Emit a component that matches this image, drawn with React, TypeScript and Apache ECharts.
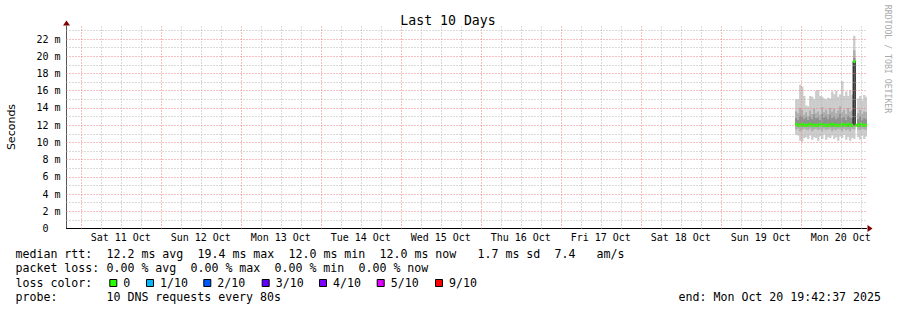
import React, { useEffect, useRef } from 'react';
import * as echarts from 'echarts';

const TITLE = 'Last 10 Days';
const Y_NAME = 'Seconds';
const CREDIT = 'RRDTOOL / TOBI OETIKER';
const MONO = '"DejaVu Sans Mono", monospace';

// x axis: hours since Sat 11 Oct 00:00
const X_MIN = -4.2897; // Fri 10 Oct 19:42:37
const X_MAX = 235.7103; // Mon 20 Oct 19:42:37
const DAY_LABELS = ['Sat 11 Oct', 'Sun 12 Oct', 'Mon 13 Oct', 'Tue 14 Oct', 'Wed 15 Oct', 'Thu 16 Oct', 'Fri 17 Oct', 'Sat 18 Oct', 'Sun 19 Oct', 'Mon 20 Oct'];
const DAY_NOON = [12, 36, 60, 84, 108, 132, 156, 180, 204, 228];
const MAJOR_X = [0, 24, 48, 72, 96, 120, 144, 168, 192, 216];
const MINOR_X = [6, 12, 18, 30, 36, 42, 54, 60, 66, 78, 84, 90, 102, 108, 114, 126, 132, 138, 150, 156, 162, 174, 180, 186, 198, 204, 210, 222, 228, 234];

// y axis: milliseconds
const Y_MAX = 23.52;
const MAJOR_Y = [2, 4, 6, 8, 10, 12, 14, 16, 18, 20, 22];
const MINOR_Y = [1, 3, 5, 7, 9, 11, 13, 15, 17, 19, 21, 23];

// samples (one per consolidation step)
const T0 = 214.3;
const STEP = 0.6;
const SMOKE_MIN = [10.9, 10.8, 10.2, 10.1, 10.5, 10.6, 10.4, 10.8, 10.3, 10.6, 10.5, 10.2, 10.7, 10.4, 10.9, 10.3, 10.6, 10.5, 10.8, 10.4, 10.6, 10.2, 10.7, 10.5, 10.9, 10.3, 10.6, 10.2, 10.5, 10.4, null, 10.6, 10.3, 10.8, 10.4, 10.7];
const SMOKE_MAX = [15.0, 15.0, 16.7, 16.5, 15.4, 14.3, 14.2, 15.4, 15.3, 15.0, 16.0, 16.1, 15.4, 15.3, 15.1, 15.0, 15.2, 15.1, 15.9, 15.6, 16.0, 15.3, 15.6, 17.1, 15.4, 15.9, 15.4, 16.1, 15.5, 22.4, null, 15.1, 15.4, 14.9, 15.5, 15.3];
const MID_LO = [11.5, 11.6, 11.3, 11.4, 11.6, 11.5, 11.4, 11.6, 11.3, 11.5, 11.6, 11.4, 11.5, 11.3, 11.6, 11.4, 11.5, 11.6, 11.3, 11.5, 11.4, 11.6, 11.5, 11.3, 11.6, 11.4, 11.5, 11.3, 11.6, 11.5, null, 11.5, 11.4, 11.6, 11.5, 11.4];
const MID_HI = [13.6, 13.4, 14.0, 13.8, 13.2, 13.5, 13.1, 13.7, 13.3, 13.9, 13.4, 13.6, 13.2, 14.1, 13.5, 13.8, 13.3, 14.0, 13.6, 13.9, 13.4, 13.7, 14.2, 13.5, 13.8, 13.3, 14.0, 13.6, 13.7, 20.7, null, 13.4, 13.8, 13.3, 13.6, 13.5];
const DARK_LO = [11.9, 11.8, 11.9, 11.8, 11.9, 11.9, 11.8, 11.9, 11.8, 11.9, 11.9, 11.8, 11.9, 11.8, 11.9, 11.9, 11.8, 11.9, 11.8, 11.9, 11.9, 11.8, 11.9, 11.8, 11.9, 11.9, 11.8, 11.9, 11.8, 11.9, null, 11.9, 11.8, 11.9, 11.8, 11.9];
const DARK_HI = [12.8, 12.6, 13.1, 13.0, 12.7, 12.9, 12.6, 13.0, 12.7, 13.2, 12.8, 12.9, 12.6, 13.3, 12.9, 13.1, 12.7, 13.2, 12.8, 13.0, 12.7, 12.9, 13.3, 12.8, 13.0, 12.6, 13.1, 12.9, 12.8, 19.8, null, 12.7, 13.0, 12.6, 12.8, 12.7];
const MEDIAN = [12.1, 12.0, 12.0, 12.1, 12.0, 12.0, 12.0, 12.1, 12.0, 12.0, 12.0, 12.0, 12.1, 12.0, 12.0, 12.0, 12.0, 12.0, 12.1, 12.0, 12.0, 12.0, 12.0, 12.1, 12.0, 12.0, 12.1, 12.0, 12.0, 19.4, 12.0, 12.0, 12.1, 12.0, 12.0, 12.0];

// legend text
const LINE_RTT: [number, string][] = [[0, 'median rtt:'], [13, '12.2 ms avg'], [26, '19.4 ms max'], [39, '12.0 ms min'], [52, '12.0 ms now'], [66, '1.7 ms sd'], [77, '7.4'], [83, 'am/s']];
const LINE_LOSS: [number, string][] = [[0, 'packet loss:'], [13, '0.00 % avg'], [25, '0.00 % max'], [37, '0.00 % min'], [49, '0.00 % now']];
const LINE_PROBE: [number, string][] = [[0, 'probe:'], [13, '10 DNS requests every 80s']];
const LOSS_LABELS = ['0', '1/10', '2/10', '3/10', '4/10', '5/10', '9/10'];
const LOSS_COLORS = ['#26ff00', '#00b8ff', '#0059ff', '#5e00ff', '#7e00ff', '#dd00ff', '#ff0000'];
const LOSS_BOX_X = [109.3, 146, 203.3, 261.7, 319, 376.7, 435];
const END_TEXT = 'end: Mon Oct 20 19:42:37 2025';

const GRID_RED = '#ec8080';
const GRID_GRAY = '#b4b4b4';
const SMOKE_COLORS = ['#cbcbcb', '#acacac', '#8e8e8e'];

const CH = 7.0;
const LEFT_TEXT = 15.5;

function textRow(items: [number, string][], y: number) {
  return items.map(([col, t]) => ({
    type: 'text',
    x: LEFT_TEXT + col * CH,
    y,
    silent: true,
    style: { text: t, fill: '#000', fontFamily: MONO, fontSize: 11.6, verticalAlign: 'middle', align: 'left' },
  }));
}

function buildOption() {
  const smokeData: number[][] = [];
  MEDIAN.forEach((_, i) => {
    if (SMOKE_MIN[i] == null) return;
    smokeData.push([T0 + i * STEP, SMOKE_MIN[i] as number, SMOKE_MAX[i] as number, MID_LO[i] as number, MID_HI[i] as number, DARK_LO[i] as number, DARK_HI[i] as number]);
  });
  const medianPts = MEDIAN.map((m, i) => [T0 + i * STEP, m]);
  const medianLine = [...medianPts, [T0 + MEDIAN.length * STEP, MEDIAN[MEDIAN.length - 1]]];

  const dotted = (color: string) => ({ color, type: [1, 2], width: 1 });
  const markData: any[] = [
    ...MINOR_Y.map((v) => ({ yAxis: v, lineStyle: dotted(GRID_GRAY) })),
    ...MAJOR_Y.map((v) => ({ yAxis: v, lineStyle: dotted(GRID_RED) })),
    ...MINOR_X.map((v) => ({ xAxis: v, lineStyle: dotted(GRID_GRAY) })),
    ...MAJOR_X.map((v) => ({ xAxis: v, lineStyle: dotted(GRID_RED) })),
  ];

  const graphic: any[] = [
    { type: 'text', x: 448, y: 20, silent: true, style: { text: TITLE, fill: '#000', fontFamily: MONO, fontSize: 13.2, align: 'center', verticalAlign: 'middle' } },
    { type: 'text', x: 11, y: 127, rotation: Math.PI / 2, silent: true, style: { text: Y_NAME, fill: '#000', fontFamily: '"DejaVu Sans", sans-serif', fontSize: 11, align: 'center', verticalAlign: 'middle' } },
    { type: 'text', x: 888, y: 59, rotation: -Math.PI / 2, silent: true, style: { text: CREDIT, fill: '#aaaaaa', fontFamily: MONO, fontSize: 8.2, align: 'center', verticalAlign: 'middle' } },
    ...textRow(LINE_RTT, 254.3),
    ...textRow(LINE_LOSS, 268.3),
    ...textRow([[0, 'loss color:']], 282.7),
    ...textRow(LINE_PROBE, 296.7),
    { type: 'text', x: 881, y: 296.7, silent: true, style: { text: END_TEXT, fill: '#000', fontFamily: MONO, fontSize: 11.6, align: 'right', verticalAlign: 'middle' } },
  ];
  LOSS_LABELS.forEach((lab, i) => {
    graphic.push({ type: 'rect', silent: true, shape: { x: LOSS_BOX_X[i] + 0.5, y: 279.5, width: 7, height: 7 }, style: { fill: LOSS_COLORS[i], stroke: '#000', lineWidth: 1 } });
    graphic.push({ type: 'text', x: LOSS_BOX_X[i] + 14, y: 282.7, silent: true, style: { text: lab, fill: '#000', fontFamily: MONO, fontSize: 11.6, verticalAlign: 'middle', align: 'left' } });
  });

  return {
    animation: false,
    backgroundColor: '#ffffff',
    grid: { left: 66.5, right: 30.5, top: 26, bottom: 81.5, containLabel: false },
    xAxis: [
      {
        type: 'value', min: X_MIN, max: X_MAX,
        axisLine: { show: true, onZero: false, lineStyle: { color: '#000', width: 1 } },
        axisTick: { show: false },
        splitLine: { show: false },
        axisLabel: {
          customValues: DAY_NOON,
          formatter: (v: number) => { const k = DAY_NOON.indexOf(v); return k >= 0 ? DAY_LABELS[k] : ''; },
          fontFamily: MONO, fontSize: 10, color: '#000', margin: 4,
        },
      },
      {
        type: 'value', min: X_MIN, max: X_MAX, position: 'bottom',
        axisLine: { show: true, onZero: false, symbol: ['none', 'triangle'], symbolSize: [7, 5], symbolOffset: [0, 3.5], lineStyle: { color: '#7f0000', width: 0 } },
        axisTick: { show: false }, axisLabel: { show: false }, splitLine: { show: false },
      },
    ],
    yAxis: [
      {
        type: 'value', min: 0, max: Y_MAX, interval: 2,
        axisLine: { show: true, onZero: false, lineStyle: { color: '#555', width: 1 } },
        axisTick: { show: false },
        splitLine: { show: false },
        axisLabel: {
          showMaxLabel: false,
          formatter: (v: number) => (v === 0 ? '{z|0}' : v + ' m'),
          rich: { z: { padding: [0, 12, 0, 0], fontFamily: MONO, fontSize: 10, color: '#000' } },
          fontFamily: MONO, fontSize: 10, color: '#000', margin: 6,
        },
      },
      {
        type: 'value', min: 0, max: Y_MAX, position: 'left',
        axisLine: { show: true, onZero: false, symbol: ['none', 'triangle'], symbolSize: [7, 5], symbolOffset: [0, 3], lineStyle: { color: '#7f0000', width: 0 } },
        axisTick: { show: false }, axisLabel: { show: false }, splitLine: { show: false },
      },
    ],
    series: [
      {
        type: 'custom',
        name: 'smoke',
        z: 1,
        silent: true,
        clip: true,
        data: smokeData,
        renderItem: (params: any, api: any) => {
          const t = api.value(0);
          const children: any[] = [];
          for (let b = 0; b < 3; b++) {
            const lo = api.value(1 + b * 2);
            const hi = api.value(2 + b * 2);
            const p1 = api.coord([t, hi]);
            const p2 = api.coord([t + STEP, lo]);
            children.push({ type: 'rect', shape: { x: p1[0], y: p1[1], width: p2[0] - p1[0] + 0.3, height: p2[1] - p1[1] }, style: { fill: SMOKE_COLORS[b] } });
          }
          return { type: 'group', children };
        },
      },
      {
        type: 'line',
        name: 'median',
        z: 2,
        silent: true,
        step: 'end',
        symbol: 'none',
        data: medianLine,
        lineStyle: { color: '#000', width: 1 },
        markLine: { silent: true, symbol: 'none', label: { show: false }, animation: false, data: markData },
      },
      {
        type: 'custom',
        name: 'median loss',
        z: 3,
        silent: true,
        clip: true,
        data: medianPts,
        renderItem: (params: any, api: any) => {
          const t = api.value(0);
          const m = api.value(1);
          const p1 = api.coord([t, m]);
          const p2 = api.coord([t + STEP, m]);
          return { type: 'rect', shape: { x: p1[0], y: p1[1] - 1.5, width: p2[0] - p1[0] + 0.3, height: 3 }, style: { fill: LOSS_COLORS[0] } };
        },
      },
    ],
    graphic,
  };
}

export default function App() {
  const ref = useRef<HTMLDivElement>(null);
  useEffect(() => {
    if (!ref.current) return;
    const chart = echarts.init(ref.current, null, { renderer: 'svg' });
    chart.setOption(buildOption() as any);
    return () => chart.dispose();
  }, []);
  return <div ref={ref} style={{ position: 'fixed', left: 0, top: 0, width: 897, height: 310, background: '#fff' }} />;
}
